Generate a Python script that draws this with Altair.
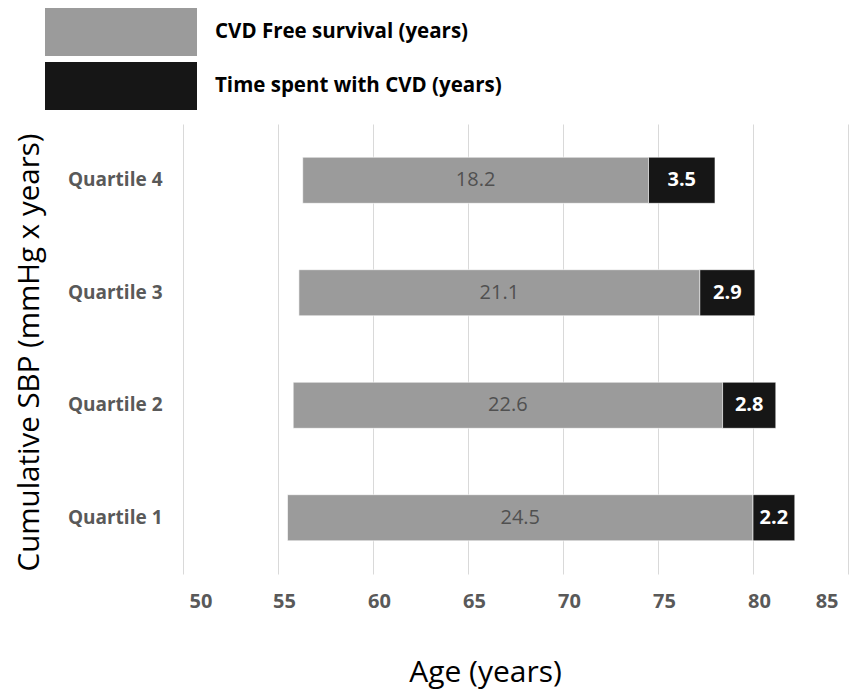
import altair as alt
import pandas as pd

quartiles = ["Quartile 4", "Quartile 3", "Quartile 2", "Quartile 1"]
start_age = [56.3, 56.1, 55.8, 55.5]
cvd_free = [18.2, 21.1, 22.6, 24.5]
with_cvd = [3.5, 2.9, 2.8, 2.2]
series = ["CVD Free survival (years)", "Time spent with CVD (years)"]
x_ticks = [50, 55, 60, 65, 70, 75, 80, 85]

rows = []
for q, s, f, c in zip(quartiles, start_age, cvd_free, with_cvd):
    rows.append(dict(q=q, series=series[0], x0=s, x1=s + f, val=f, mid=s + f / 2))
    rows.append(dict(q=q, series=series[1], x0=s + f, x1=s + f + c, val=c, mid=s + f + c / 2))
df = pd.DataFrame(rows)

FONT = "Open Sans"
TITLE = "Age (years)"

y_enc = alt.Y(
    "q:N",
    sort=quartiles,
    scale=alt.Scale(paddingInner=0.59, paddingOuter=0.295),
    axis=alt.Axis(
        title="Cumulative SBP (mmHg x years)",
        labelFont=FONT, labelFontSize=19, labelFontWeight="bold", labelColor="#595959",
        labelPadding=21, ticks=False, domain=False, grid=False,
        titleFont=FONT, titleFontSize=29.5, titleFontWeight="normal", titleColor="#000000",
        titleX=-154, titleY=228, titleBaseline="middle", titleAlign="center", titleAngle=270,
    ),
)

x_enc = alt.X(
    "x0:Q",
    title=TITLE,
    scale=alt.Scale(domain=[50, 85], nice=False, zero=False),
    axis=alt.Axis(
        values=x_ticks, format="d",
        labelFont=FONT, labelFontSize=20, labelFontWeight="bold", labelColor="#595959",
        labelPadding=17,
        labelOffset={"condition": {"test": "datum.value == 85", "value": -10}, "value": 6},
        ticks=False, domain=False,
        grid=True, gridColor="#d9d9d9", gridWidth=1,
        titleFont=FONT, titleFontSize=30, titleFontWeight="normal", titleColor="#000000",
        titleX=302, titleY=98, titleBaseline="middle", titleAlign="center",
    ),
)

bars = alt.Chart(df).mark_bar(stroke="#ffffff", strokeWidth=1, strokeOpacity=0.6).encode(
    x=x_enc,
    x2="x1:Q",
    y=y_enc,
    color=alt.Color(
        "series:N",
        scale=alt.Scale(domain=series, range=["#9b9b9b", "#161616"]),
        legend=alt.Legend(
            title=None, orient="none", legendX=-138, legendY=-116,
            symbolType="M-1,-0.3158H1V0.3158H-1Z", symbolSize=23104,
            symbolStrokeWidth=0, symbolOpacity=1, clipHeight=48,
            labelFont=FONT, labelFontSize=20.5, labelFontWeight="bold", labelColor="#000000",
            labelOffset=18, rowPadding=6, padding=0, labelLimit=500,
        ),
    ),
)

text_free = alt.Chart(df).transform_filter(
    alt.datum.series == series[0]
).mark_text(font=FONT, fontSize=20, color="#505050").encode(
    x=alt.X("mid:Q", title=TITLE),
    y=alt.Y("q:N", sort=quartiles),
    text=alt.Text("val:Q", format=".1f"),
)

text_cvd = alt.Chart(df).transform_filter(
    alt.datum.series == series[1]
).mark_text(font=FONT, fontSize=20, fontWeight="bold", color="#ffffff").encode(
    x=alt.X("mid:Q", title=TITLE),
    y=alt.Y("q:N", sort=quartiles),
    text=alt.Text("val:Q", format=".1f"),
)

chart = alt.layer(bars, text_free, text_cvd).properties(
    width=665,
    height=450,
    autosize=alt.AutoSizeParams(type="none"),
    padding={"left": 175, "top": 116, "right": 2, "bottom": 122},
).configure_view(stroke=None)

chart.save("out.html", embed_options={"renderer": "svg", "actions": False})
